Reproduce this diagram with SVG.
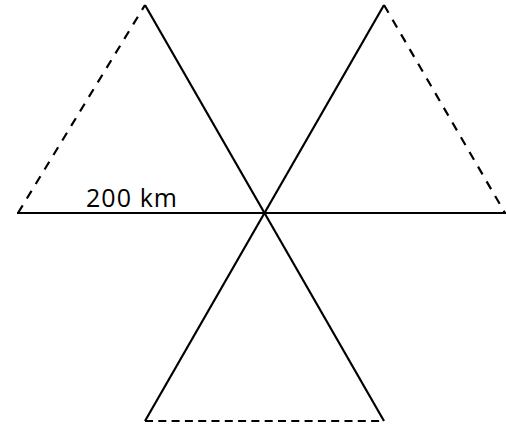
<svg xmlns="http://www.w3.org/2000/svg" width="506" height="427" viewBox="0 0 506 427">
<style>
.s{stroke:#000;stroke-width:2.2;fill:none;stroke-linecap:butt}
.d{stroke-dasharray:9,8}
.b{stroke-dasharray:8,5.3}
.t{font-family:"Open Sans","Liberation Sans",sans-serif;font-size:25px;fill:#000}
</style>
<rect width="506" height="427" fill="#fff"/>
<g id="connectors">
<line class="s" x1="17" y1="213" x2="506" y2="213"/>
<line class="s" x1="145" y1="5" x2="384" y2="421"/>
<line class="s" x1="384" y1="5" x2="145" y2="421"/>
<line class="s d" x1="18" y1="213" x2="145" y2="5"/>
<line class="s d" x1="384" y1="5" x2="505" y2="213"/>
<line class="s b" x1="145" y1="421" x2="384" y2="421"/>
</g>
<g id="label">
<text class="t" x="86" y="207" textLength="91" lengthAdjust="spacing">200 km</text>
</g>
</svg>
